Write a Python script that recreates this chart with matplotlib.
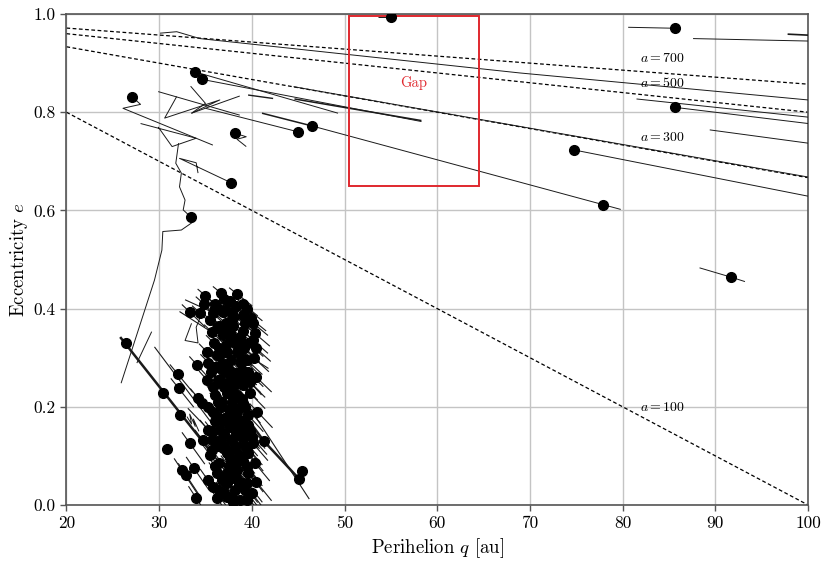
import numpy as np
import matplotlib
matplotlib.use("Agg")
import matplotlib.pyplot as plt
from matplotlib.patches import Rectangle

plt.rcParams['font.family'] = 'serif'
plt.rcParams['font.serif'] = ['cmr10', 'DejaVu Serif']
plt.rcParams['mathtext.fontset'] = 'cm'
plt.rcParams['axes.formatter.use_mathtext'] = True

# ---------------- data ----------------
x_ticks = [20, 30, 40, 50, 60, 70, 80, 90, 100]
y_ticks = [0.0, 0.2, 0.4, 0.6, 0.8, 1.0]

a_lines = [100, 300, 500, 700]
a_label_q = [84.3, 84.3, 84.3, 84.3]
a_label_e = [0.198, 0.748, 0.859, 0.910]

gap_q = [50.5, 64.5]
gap_e = [0.65, 0.995]
gap_label = "Gap"

# detached / scattered objects (dots)
outer_q = [55.0, 85.7, 85.6, 74.8, 77.9, 46.5, 45.0, 27.1, 33.9, 34.6, 38.2,
           37.8, 33.4, 91.7, 26.4, 30.4, 30.8, 32.3, 45.1, 45.4, 41.3]
outer_e = [0.993, 0.971, 0.810, 0.723, 0.611, 0.772, 0.760, 0.831, 0.882, 0.867, 0.757,
           0.656, 0.587, 0.464, 0.330, 0.228, 0.114, 0.183, 0.053, 0.069, 0.130]

# explicit orbital-evolution tracks (q list, e list, line width)
outer_tracks = [
    ([53.6, 55.0], [0.993, 0.993], 0.7),
    ([80.6, 85.7], [0.973, 0.971], 0.7),
    ([87.6, 100.0], [0.950, 0.945], 0.7),
    ([97.8, 100.0], [0.959, 0.957], 1.2),
    ([81.5, 100.0], [0.827, 0.790], 0.7),
    ([85.6, 100.0], [0.810, 0.777], 0.7),
    ([89.4, 100.0], [0.764, 0.737], 0.7),
    ([74.8, 100.0], [0.723, 0.629], 0.7),
    ([46.5, 79.8], [0.772, 0.602], 0.7),
    ([88.3, 91.7, 93.2], [0.483, 0.464, 0.455], 0.7),
    ([30.1, 31.9, 34.4, 68.9, 100.0], [0.961, 0.964, 0.950, 0.880, 0.825], 0.7),
    ([33.9, 49.3], [0.882, 0.798], 0.7),
    ([34.6, 58.3], [0.867, 0.781], 0.7),
    ([44.6, 58.3], [0.827, 0.783], 1.1),
    ([39.6, 42.3], [0.835, 0.828], 1.0),
    ([33.4, 35.0, 33.5, 38.7], [0.853, 0.818, 0.798, 0.833], 0.7),
    ([29.9, 38.7], [0.842, 0.794], 0.7),
    ([31.9, 30.6, 36.55, 33.5], [0.832, 0.788, 0.825, 0.798], 0.7),
    ([27.1, 28.0, 26.1, 35.8], [0.831, 0.816, 0.808, 0.733], 0.7),
    ([28.0, 34.0, 31.4, 29.9], [0.777, 0.747, 0.730, 0.770], 0.7),
    ([38.2, 39.4, 38.4, 39.4], [0.757, 0.750, 0.745, 0.730], 0.7),
    ([35.0, 45.0], [0.808, 0.760], 0.7),
    ([41.1, 46.5], [0.798, 0.772], 1.1),
    ([44.5, 100.0], [0.852, 0.668], 0.7),
    ([37.8, 32.2, 34.0, 34.2], [0.656, 0.706, 0.697, 0.676], 0.7),
    ([32.1, 31.8, 32.4, 32.2, 32.8, 32.6, 33.4, 33.7, 32.4, 30.4, 30.3, 29.5, 25.9],
     [0.737, 0.696, 0.676, 0.648, 0.621, 0.601, 0.587, 0.577, 0.560, 0.557, 0.519, 0.458, 0.248], 0.7),
    ([29.2, 27.6], [0.353, 0.289], 0.7),
]

inner_tracks = [
    ([25.8, 35.5], [0.342, 0.110], 1.8),
    ([39.0, 41.3, 45.5], [0.190, 0.130, 0.045], 1.8),
    ([39.8, 46.2], [0.197, 0.012], 0.8),
    ([32.2, 41.8], [0.394, 0.278], 0.8),
    ([32.8, 40.7], [0.418, 0.350], 0.8),
    ([29.5, 35.7], [0.322, 0.166], 0.8),
    ([33.1, 40.9], [0.197, 0.044], 0.8),
    ([39.8, 41.05], [0.251, 0.224], 0.8),
    ([33.5, 32.8, 34.2, 34.0, 34.6], [0.370, 0.335, 0.330, 0.362, 0.390], 0.7),
    ([33.0, 33.5, 33.3, 33.9, 33.7, 34.3], [0.180, 0.165, 0.185, 0.160, 0.175, 0.150], 0.7),
]

# classical belt / scattered disc (dots)
cluster_q = [35.0, 36.65, 37.6, 33.3, 34.4, 35.5, 36.0, 36.9, 37.9, 39.0, 40.1, 35.7, 36.9,
             37.8, 38.7, 40.1, 35.15, 36.2, 37.3, 38.4, 39.5, 34.1, 36.3, 37.4, 38.4, 39.6,
             32.0, 35.15, 36.3, 37.6, 38.7, 32.1, 34.2, 36.0, 37.3, 38.4, 39.8, 34.6, 37.9,
             39.0, 37.3, 38.4, 39.6, 35.25, 36.55, 37.6, 38.7, 39.6, 33.3, 34.7, 35.7, 36.55,
             37.8, 39.0, 40.0, 35.7, 36.9, 37.9, 39.5, 40.1, 35.5, 37.6, 38.7, 39.6, 32.45,
             32.9, 33.75, 37.3, 38.4, 39.5, 40.3, 35.25, 35.8, 37.3, 37.9, 39.5, 40.5, 34.0,
             37.3, 37.9, 38.7, 40.0, 36.5, 37.0, 38.0, 39.0, 38.2, 37.2, 39.2, 36.5, 37.8,
             38.8, 36.8, 37.0, 38.0, 37.0, 39.0, 36.7, 37.5, 38.5, 39.3, 36.4, 38.0, 39.2,
             36.0, 38.2, 37.0, 38.3, 39.0, 38.0, 36.5, 36.2, 38.6, 39.3, 36.5, 38.2, 36.3,
             38.3, 39.5, 37.2, 35.3, 35.6, 36.8, 35.8, 39.8, 40.2, 40.3, 36.0, 34.8,
             35.8, 37.2, 38.0, 39.3, 36.2, 37.6, 38.6, 39.6, 35.9, 36.8, 38.9, 36.0, 38.9,
             37.9, 36.7, 38.2, 39.3, 35.8, 37.8, 38.9, 36.3, 35.3, 37.8, 38.9, 36.9, 35.8,
             37.0, 38.3, 39.8, 36.3, 39.3, 37.3, 38.5, 36.0, 37.5, 39.6, 36.8, 38.3, 39.0,
             37.0, 38.0, 39.5, 36.2, 39.9, 37.0, 38.4, 39.0, 40.4, 40.5, 40.6]
cluster_e = [0.426, 0.432, 0.415, 0.393, 0.391, 0.377, 0.401, 0.393, 0.391, 0.387, 0.371, 0.352, 0.346,
             0.342, 0.342, 0.336, 0.312, 0.305, 0.312, 0.312, 0.295, 0.285, 0.281, 0.279, 0.269, 0.271,
             0.267, 0.255, 0.255, 0.255, 0.259, 0.238, 0.218, 0.224, 0.228, 0.224, 0.228, 0.208, 0.210,
             0.208, 0.179, 0.179, 0.183, 0.153, 0.153, 0.159, 0.157, 0.163, 0.126, 0.132, 0.132, 0.132,
             0.132, 0.136, 0.138, 0.112, 0.116, 0.112, 0.118, 0.126, 0.102, 0.096, 0.102, 0.106, 0.071,
             0.061, 0.075, 0.065, 0.071, 0.077, 0.086, 0.051, 0.037, 0.045, 0.055, 0.045, 0.047, 0.014,
             0.016, 0.016, 0.010, 0.024, 0.365, 0.360, 0.365, 0.355, 0.330, 0.325, 0.320, 0.320, 0.295,
             0.290, 0.290, 0.270, 0.240, 0.240, 0.245, 0.200, 0.195, 0.195, 0.200, 0.180, 0.165, 0.150,
             0.170, 0.140, 0.120, 0.120, 0.090, 0.080, 0.085, 0.065, 0.040, 0.030, 0.030, 0.030, 0.400,
             0.405, 0.400, 0.370, 0.290, 0.270, 0.210, 0.190, 0.250, 0.300, 0.350, 0.410, 0.410,
             0.390, 0.400, 0.380, 0.370, 0.360, 0.350, 0.330, 0.330, 0.330, 0.310, 0.300, 0.280, 0.275,
             0.270, 0.250, 0.255, 0.260, 0.240, 0.225, 0.215, 0.210, 0.200, 0.190, 0.170, 0.170, 0.150,
             0.145, 0.155, 0.150, 0.120, 0.120, 0.105, 0.090, 0.080, 0.080, 0.065, 0.050, 0.055, 0.045,
             0.025, 0.005, 0.010, 0.015, 0.380, 0.420, 0.430, 0.410, 0.320, 0.260, 0.190]
# short constant-a track span around each cluster object (au before / after)
cluster_track_back = 0.8
cluster_track_fwd = 1.6

# ---------------- figure ----------------
fig = plt.figure(figsize=(8.3, 5.68), dpi=100)
ax = fig.add_axes([0.080, 0.111, 0.8935, 0.8643])

ax.set_xlim(20, 100)
ax.set_ylim(0, 1)
ax.set_xticks(x_ticks)
ax.set_yticks(y_ticks)
ax.set_xticklabels([str(t) for t in x_ticks])
ax.set_yticklabels([f"{t:.1f}" for t in y_ticks])
ax.grid(True, color='#c4c4c4', linewidth=1.0, zorder=0)
ax.set_axisbelow(True)
for s in ax.spines.values():
    s.set_color('#555555')
    s.set_linewidth(1.2)
ax.tick_params(direction='out', length=4, width=1, color='#555555', labelsize=12.5)

# constant semi-major axis lines
qq = np.linspace(20, 100, 200)
for a in a_lines:
    ax.plot(qq, 1 - qq / a, color='black', linestyle=(0, (3, 2)), linewidth=0.9, zorder=2)
for a, lq, le in zip(a_lines, a_label_q, a_label_e):
    ax.text(lq, le, rf'$a = {a}$', fontsize=10, ha='center', va='center', zorder=5)

# gap box
ax.add_patch(Rectangle((gap_q[0], gap_e[0]), gap_q[1] - gap_q[0], gap_e[1] - gap_e[0],
                       fill=False, edgecolor='#e0282e', linewidth=1.4, zorder=4))
ax.text(sum(gap_q) / 2, 0.859, gap_label, color='#e0282e', fontsize=10.5,
        ha='center', va='center', zorder=5)

# tracks
for tq, te, lw in outer_tracks + inner_tracks:
    ax.plot(tq, te, color='#1a1a1a', linewidth=lw, zorder=3, solid_capstyle='butt')
for q, e in zip(cluster_q, cluster_e):
    a = q / (1 - e)
    tq = np.array([q - cluster_track_back, q + cluster_track_fwd])
    ax.plot(tq, 1 - tq / a, color='#1a1a1a', linewidth=0.8, zorder=3)

# dots
ax.plot(outer_q, outer_e, 'o', color='black', markersize=7, zorder=6)
ax.plot(cluster_q, cluster_e, 'o', color='black', markersize=7, zorder=6)

ax.set_xlabel(r'Perihelion $q$ [au]', fontsize=13.5, labelpad=4)
ax.set_ylabel(r'Eccentricity $e$', fontsize=13.5, labelpad=3)

fig.savefig('out.png', dpi=100)
